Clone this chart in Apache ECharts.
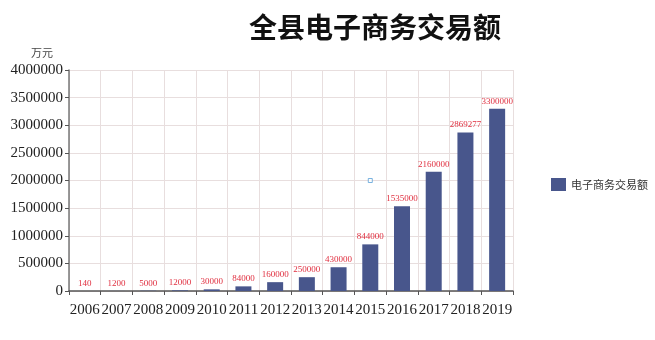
<!DOCTYPE html>
<html><head><meta charset="utf-8">
<script src="https://cdn.jsdelivr.net/npm/echarts@6/dist/echarts.min.js"></script>
<style>html,body{margin:0;padding:0;background:#fff}#c{width:655px;height:340px}</style>
</head><body><div id="c"></div>
<script>
const categories = ['2006','2007','2008','2009','2010','2011','2012','2013','2014','2015','2016','2017','2018','2019'];
const values = [140,1200,5000,12000,30000,84000,160000,250000,430000,844000,1535000,2160000,2869277,3300000];
const seriesName = '电子商务交易额';
const markerPoint = [['2015', 2000000]];
const chart = echarts.init(document.getElementById('c'));
chart.setOption({
  animation: false,
  backgroundColor: '#fff',
  title: {
    text: '全县电子商务交易额', left: 370, top: 8, textAlign: 'center',
    textStyle: {fontFamily: 'Noto Sans CJK SC', fontWeight: 'bold', fontSize: 28, color: '#111'}
  },
  legend: {
    data: [{name: seriesName, icon: 'rect'}], orient: 'vertical', left: 546, top: 173,
    itemWidth: 15, itemHeight: 13, itemGap: 8,
    textStyle: {fontFamily: 'Noto Sans CJK SC', fontSize: 11, color: '#333'}
  },
  grid: {left: 69, right: 142, top: 70, bottom: 49},
  xAxis: {
    type: 'category', data: categories,
    axisLine: {lineStyle: {color: '#555', width: 1.5}},
    axisTick: {show: true, alignWithLabel: false, interval: 0, length: 4, lineStyle: {color: '#555'}},
    axisLabel: {interval: 0, fontFamily: 'Liberation Serif', fontSize: 15, color: '#222', margin: 12},
    splitLine: {show: true, interval: 0, lineStyle: {color: '#e8dede'}}
  },
  yAxis: {
    type: 'value', min: 0, max: 4000000, interval: 500000,
    name: '万元', nameGap: 12,
    nameTextStyle: {fontFamily: 'Noto Sans CJK SC', fontSize: 11, color: '#444', align: 'right', padding: [0, 16, 0, 0]},
    axisLine: {show: true, lineStyle: {color: '#777', width: 1.5}},
    axisTick: {show: true, length: 4, lineStyle: {color: '#555'}},
    axisLabel: {fontFamily: 'Liberation Serif', fontSize: 15, color: '#222', margin: 6,
      formatter: v => String(v)},
    splitLine: {lineStyle: {color: '#e8dede'}}
  },
  series: [
    {
      name: seriesName, type: 'bar', data: values, barWidth: 16,
      itemStyle: {color: '#48568c'},
      label: {show: true, position: 'top', distance: 3,
        fontFamily: 'Liberation Serif', fontSize: 9, color: '#e03040'}
    },
    {
      name: 'marker', type: 'scatter', data: markerPoint, symbol: 'rect', symbolSize: 4,
      itemStyle: {color: '#fff', borderColor: '#5aa0d8', borderWidth: 1}, silent: true
    }
  ]
});
</script></body></html>
